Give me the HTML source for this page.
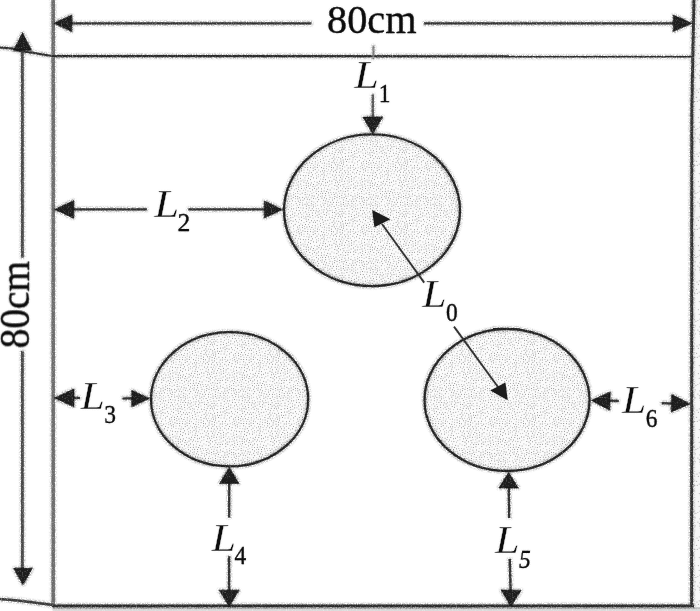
<!DOCTYPE html>
<html>
<head>
<meta charset="utf-8">
<title>Diagram</title>
<style>
html,body{margin:0;padding:0;background:#fff;}
body{width:700px;height:611px;overflow:hidden;}
svg{display:block;}
text{font-family:"Liberation Serif",serif;fill:#0d0d0d;stroke:#0d0d0d;stroke-width:0.32px;}
.it{font-style:italic;}
.L{stroke:#fff;stroke-width:0.35px;}
</style>
</head>
<body>
<svg width="700" height="611" viewBox="0 0 700 611">
<defs>
  <!-- rough scanned look: speckled halo + softened core -->
  <filter id="rough" x="-2%" y="-2%" width="104%" height="104%" filterUnits="objectBoundingBox">
    <feTurbulence type="fractalNoise" baseFrequency="0.8" numOctaves="2" seed="4" result="n"/>
    <feColorMatrix in="n" type="matrix" values="0 0 0 0 0  0 0 0 0 0  0 0 0 0 0  3.4 0 0 0 -1.2" result="na"/>
    <feColorMatrix in="n" type="matrix" values="0 0 0 0 0  0 0 0 0 0  0 0 0 0 0  0 1.3 0 0 0.35" result="nb"/>
    <feMorphology in="SourceGraphic" operator="dilate" radius="1.1" result="d"/>
    <feGaussianBlur in="d" stdDeviation="0.9" result="db"/>
    <feComposite in="db" in2="na" operator="in" result="halo0"/>
    <feComponentTransfer in="halo0" result="halo"><feFuncA type="linear" slope="0.6"/></feComponentTransfer>
    <feGaussianBlur in="SourceGraphic" stdDeviation="0.55" result="core0"/>
    <feComposite in="core0" in2="nb" operator="in" result="core"/>
    <feMerge><feMergeNode in="halo"/><feMergeNode in="core"/></feMerge>
  </filter>
  <filter id="roughT" x="-5%" y="-5%" width="110%" height="110%" filterUnits="objectBoundingBox">
    <feTurbulence type="fractalNoise" baseFrequency="0.8" numOctaves="2" seed="9" result="n"/>
    <feColorMatrix in="n" type="matrix" values="0 0 0 0 0  0 0 0 0 0  0 0 0 0 0  3.4 0 0 0 -1.2" result="na"/>
    <feGaussianBlur in="SourceGraphic" stdDeviation="1.0" result="db"/>
    <feComposite in="db" in2="na" operator="in" result="halo0"/>
    <feComponentTransfer in="halo0" result="halo"><feFuncA type="linear" slope="0.32"/></feComponentTransfer>
    <feGaussianBlur in="SourceGraphic" stdDeviation="0.35" result="core"/>
    <feMerge><feMergeNode in="halo"/><feMergeNode in="core"/></feMerge>
  </filter>
  <filter id="roughH" x="-2%" y="-2%" width="104%" height="104%" filterUnits="objectBoundingBox">
    <feTurbulence type="fractalNoise" baseFrequency="0.8" numOctaves="2" seed="13" result="n"/>
    <feColorMatrix in="n" type="matrix" values="0 0 0 0 0  0 0 0 0 0  0 0 0 0 0  3.4 0 0 0 -1.2" result="na"/>
    <feColorMatrix in="n" type="matrix" values="0 0 0 0 0  0 0 0 0 0  0 0 0 0 0  0 1.2 0 0 0.42" result="nb"/>
    <feMorphology in="SourceGraphic" operator="dilate" radius="1.0" result="d"/>
    <feGaussianBlur in="d" stdDeviation="1.0" result="db"/>
    <feComposite in="db" in2="na" operator="in" result="halo0"/>
    <feComponentTransfer in="halo0" result="halo"><feFuncA type="linear" slope="0.6"/></feComponentTransfer>
    <feGaussianBlur in="SourceGraphic" stdDeviation="0.6" result="core0"/>
    <feComposite in="core0" in2="nb" operator="in" result="core"/>
    <feMerge><feMergeNode in="halo"/><feMergeNode in="core"/></feMerge>
  </filter>
  <filter id="roughE" x="-3%" y="-3%" width="106%" height="106%" filterUnits="objectBoundingBox">
    <feTurbulence type="fractalNoise" baseFrequency="0.8" numOctaves="2" seed="21" result="n"/>
    <feColorMatrix in="n" type="matrix" values="0 0 0 0 0  0 0 0 0 0  0 0 0 0 0  3.4 0 0 0 -1.2" result="na"/>
    <feColorMatrix in="n" type="matrix" values="0 0 0 0 0  0 0 0 0 0  0 0 0 0 0  0 1.2 0 0 0.42" result="nb"/>
    <feMorphology in="SourceGraphic" operator="dilate" radius="0.5" result="d"/>
    <feGaussianBlur in="d" stdDeviation="0.8" result="db"/>
    <feComposite in="db" in2="na" operator="in" result="halo0"/>
    <feComponentTransfer in="halo0" result="halo"><feFuncA type="linear" slope="0.5"/></feComponentTransfer>
    <feGaussianBlur in="SourceGraphic" stdDeviation="0.5" result="core0"/>
    <feComposite in="core0" in2="nb" operator="in" result="core"/>
    <feMerge><feMergeNode in="halo"/><feMergeNode in="core"/></feMerge>
  </filter>
  <filter id="soft" x="-2%" y="-2%" width="104%" height="104%">
    <feGaussianBlur stdDeviation="0.45"/>
  </filter>
  <pattern id="stip" width="64" height="64" patternUnits="userSpaceOnUse">
    <rect width="64" height="64" fill="#fbfbfb"/>
    <path d="M41.7 4.6h.01M34.3 23.4h.01M2.4 27.8h.01M4.5 5.8h.01M7.9 14.3h.01M40.2 60.7h.01M62.5 3.0h.01M54.9 18.5h.01M19.7 52.2h.01M11.6 37.2h.01M35.1 4.0h.01M3.8 13.2h.01M20.1 37.5h.01M29.0 19.2h.01M15.6 36.8h.01M33.6 56.0h.01M62.7 7.6h.01M26.8 48.5h.01M2.5 42.8h.01M48.9 36.7h.01M37.1 29.2h.01M53.8 60.5h.01M3.9 44.9h.01M41.4 63.6h.01M24.7 42.8h.01M3.8 49.2h.01M5.2 28.7h.01M52.4 55.3h.01M23.0 56.6h.01M61.3 9.7h.01M14.9 31.0h.01M37.7 16.8h.01M23.6 36.2h.01M61.0 44.2h.01M57.6 49.9h.01M25.1 25.5h.01M13.4 10.4h.01M21.8 3.4h.01M6.5 23.3h.01M1.6 56.0h.01M16.1 22.2h.01M23.3 7.9h.01M29.8 31.0h.01M21.9 16.9h.01M1.5 60.9h.01M33.8 9.4h.01M33.8 62.6h.01M55.3 44.6h.01M34.1 49.9h.01M21.1 14.3h.01M54.6 51.6h.01M52.4 47.4h.01M16.6 44.3h.01M61.2 28.6h.01M61.1 23.3h.01M14.1 14.5h.01M53.8 30.7h.01M41.8 51.2h.01M62.2 25.3h.01M25.7 60.6h.01M8.1 9.7h.01M9.4 52.9h.01M8.4 0.9h.01M33.7 59.8h.01M52.9 13.5h.01M16.1 18.7h.01M22.6 29.3h.01M37.3 57.9h.01M32.1 34.0h.01M28.2 11.7h.01M46.4 35.6h.01M20.9 33.2h.01M49.4 32.5h.01M36.0 48.6h.01M39.2 32.4h.01M32.8 44.3h.01M30.6 60.3h.01M44.7 56.1h.01M35.8 60.4h.01M7.8 28.3h.01M4.7 42.8h.01M50.2 57.4h.01M42.3 9.2h.01M56.5 61.9h.01M25.5 31.2h.01M63.4 53.3h.01M12.5 20.4h.01M46.2 1.2h.01M4.1 63.0h.01M6.7 17.0h.01M36.5 44.8h.01M5.7 3.7h.01M5.4 54.8h.01M29.0 21.7h.01M20.0 19.5h.01M32.0 11.4h.01M16.0 1.0h.01M12.1 30.4h.01M52.4 27.7h.01M31.7 53.4h.01M21.9 53.3h.01M45.2 40.7h.01M3.5 8.3h.01M16.4 10.4h.01M18.8 29.4h.01M16.8 61.6h.01M19.8 22.8h.01M0.1 24.4h.01M2.7 1.4h.01M37.5 33.9h.01M2.8 53.5h.01M57.1 40.1h.01M8.9 33.5h.01M51.5 52.9h.01M35.7 40.2h.01M40.1 43.6h.01M47.2 16.1h.01M46.7 13.1h.01M31.6 24.5h.01M49.1 39.5h.01M43.2 18.6h.01M33.1 29.7h.01M57.2 12.8h.01M62.6 59.9h.01M14.8 57.5h.01M0.2 31.5h.01M0.1 48.0h.01M53.7 7.7h.01M57.7 18.5h.01M63.9 37.7h.01M18.3 59.9h.01M19.1 47.3h.01M10.7 10.3h.01M31.8 14.1h.01M21.9 5.8h.01M15.3 16.5h.01M26.5 33.5h.01M4.0 17.8h.01M25.6 28.5h.01M61.1 54.3h.01M57.3 30.3h.01M37.6 0.0h.01M33.6 37.3h.01M24.8 14.3h.01M26.9 16.5h.01M42.7 59.2h.01M43.7 12.7h.01M62.1 19.9h.01M14.3 26.7h.01M9.4 25.2h.01M57.5 56.5h.01M59.6 21.1h.01M23.9 21.2h.01M10.8 0.2h.01M3.2 30.3h.01M23.9 58.8h.01M49.1 2.6h.01M2.2 4.0h.01M61.3 39.5h.01M60.4 1.6h.01M38.9 21.0h.01M50.1 5.1h.01M20.8 62.7h.01M17.0 5.4h.01M45.4 28.6h.01M47.9 54.2h.01M25.3 63.5h.01M51.7 41.8h.01M55.4 28.7h.01M16.6 49.8h.01M50.9 35.1h.01M23.3 12.6h.01M12.6 8.1h.01M30.9 3.4h.01M50.3 14.2h.01M26.9 37.3h.01M28.6 28.1h.01M1.5 39.6h.01M50.5 59.6h.01M4.2 22.5h.01M55.9 35.5h.01M6.7 63.5h.01M37.5 42.5h.01M39.4 27.7h.01M14.5 6.7h.01M17.0 41.1h.01M56.3 21.0h.01M28.0 46.4h.01M13.6 39.8h.01M44.6 47.2h.01M58.5 60.4h.01M40.4 18.4h.01M54.5 39.6h.01M22.2 45.1h.01M0.1 12.9h.01M31.5 51.0h.01M44.6 50.4h.01M21.0 12.1h.01M24.9 2.2h.01M25.5 50.6h.01M9.1 38.6h.01M20.0 40.2h.01M11.7 41.9h.01M49.8 24.9h.01M13.4 43.8h.01M14.0 51.3h.01M22.6 40.9h.01M53.4 22.7h.01M35.5 16.9h.01M42.6 53.8h.01M32.2 17.4h.01M59.0 39.0h.01M52.6 50.3h.01M26.4 6.5h.01M0.3 43.8h.01M46.7 5.4h.01M60.5 50.2h.01M45.0 53.0h.01M50.7 29.4h.01M5.6 51.6h.01M30.5 37.7h.01M12.1 12.3h.01M58.2 4.1h.01M7.7 61.4h.01M14.2 2.5h.01M53.6 3.0h.01M6.7 20.7h.01M20.4 57.8h.01M16.5 12.9h.01M36.6 8.8h.01M11.9 53.2h.01M23.5 10.5h.01M16.0 52.3h.01M1.9 6.2h.01M37.9 55.1h.01M27.9 62.8h.01M47.3 47.6h.01M37.2 5.6h.01M43.3 33.6h.01M28.2 40.0h.01M32.8 7.1h.01M10.0 18.6h.01M19.6 44.2h.01M48.6 6.8h.01M28.8 24.7h.01M25.8 4.2h.01M42.5 21.9h.01M23.1 32.0h.01M40.2 11.6h.01M9.1 36.0h.01M44.0 10.5h.01M32.9 27.0h.01M54.1 25.2h.01M37.7 2.8h.01M5.1 11.4h.01M12.0 34.4h.01M39.3 46.3h.01M49.7 19.8h.01M18.1 21.2h.01M31.1 57.0h.01M55.3 11.7h.01M43.7 5.8h.01M1.3 63.4h.01M56.5 46.8h.01M44.4 20.8h.01M41.4 35.1h.01M45.6 25.2h.01M17.0 58.2h.01M59.3 33.8h.01M24.4 53.3h.01M55.8 9.3h.01M3.3 20.1h.01M14.3 34.9h.01M5.7 8.9h.01M22.6 24.0h.01M15.7 47.0h.01M57.2 42.6h.01M61.0 57.1h.01M50.8 22.2h.01M4.5 35.1h.01M17.5 54.1h.01M12.4 47.1h.01M6.5 6.8h.01M45.5 60.5h.01M56.9 58.6h.01M49.2 0.4h.01M1.3 14.8h.01M34.0 41.6h.01M18.3 24.4h.01M64.0 29.2h.01M57.6 14.9h.01M2.0 46.4h.01M47.0 8.3h.01M43.3 41.8h.01M50.3 16.7h.01M62.4 63.7h.01M59.5 30.3h.01M56.7 23.5h.01M51.3 7.2h.01M54.5 57.0h.01M15.4 54.8h.01M13.6 0.1h.01M41.8 6.8h.01M53.2 15.9h.01M56.1 3.8h.01M15.2 24.4h.01M60.8 61.2h.01M7.5 54.3h.01M31.6 48.4h.01M55.3 54.9h.01M55.1 48.6h.01M22.4 38.3h.01M0.1 4.6h.01M61.7 5.3h.01M20.9 42.4h.01M44.5 8.2h.01M53.4 34.7h.01M17.2 38.9h.01M59.2 41.6h.01M29.2 54.1h.01M61.4 37.1h.01M3.8 40.4h.01M0.4 33.7h.01M35.1 58.1h.01M18.4 56.4h.01M28.4 2.0h.01M31.3 9.2h.01M21.6 35.2h.01M31.0 28.0h.01M46.9 38.8h.01M36.5 22.2h.01M25.6 44.8h.01M15.2 42.4h.01M28.3 44.1h.01M52.0 24.4h.01M17.9 36.8h.01M32.9 4.8h.01M9.8 13.1h.01M5.9 57.6h.01M20.7 30.9h.01M46.5 33.3h.01M51.7 39.5h.01M10.0 5.3h.01M28.8 49.6h.01M49.8 47.7h.01M20.4 49.3h.01M21.8 21.9h.01M56.2 16.7h.01M19.6 4.5h.01M10.1 62.0h.01M22.2 19.4h.01M42.4 15.5h.01M27.7 31.5h.01M57.6 6.4h.01M2.1 25.1h.01M11.4 39.5h.01M35.2 6.8h.01M49.0 12.3h.01M42.7 39.7h.01M42.0 57.0h.01M39.4 4.4h.01M51.2 12.0h.01M34.9 28.6h.01M63.1 22.3h.01M13.8 28.9h.01M60.2 18.8h.01M22.1 51.1h.01M34.8 25.7h.01M14.9 4.5h.01M27.2 13.9h.01M62.9 55.7h.01M38.7 23.9h.01M20.6 24.9h.01M3.1 51.3h.01M45.6 42.9h.01M24.1 5.6h.01M52.6 58.0h.01M12.1 25.6h.01M30.3 40.0h.01M23.7 34.1h.01M28.2 9.5h.01M4.3 47.1h.01M53.0 45.1h.01M63.8 18.7h.01M50.1 27.1h.01M5.4 1.5h.01M50.2 55.1h.01M28.2 60.5h.01M42.1 37.3h.01M13.7 32.8h.01M7.8 18.9h.01M14.7 20.5h.01" stroke="#767676" stroke-width="0.95" stroke-linecap="round" fill="none"/>
    <path d="M20.7 9.7h.01M3.7 32.5h.01M27.2 52.9h.01M36.9 25.4h.01M9.2 7.5h.01M40.9 23.8h.01M43.5 27.4h.01M50.8 44.7h.01M46.7 18.4h.01M9.7 31.3h.01M44.5 38.0h.01M30.3 42.5h.01M52.6 18.2h.01M25.0 55.8h.01M17.8 26.6h.01M11.3 14.8h.01M0.3 26.8h.01M33.0 39.5h.01M6.6 40.6h.01M0.0 9.7h.01M39.3 9.5h.01M54.3 63.6h.01M53.0 10.3h.01M34.8 1.7h.01M10.7 49.4h.01M51.9 63.0h.01M1.8 17.9h.01M60.0 63.2h.01M39.9 57.6h.01M48.0 30.6h.01M46.4 10.9h.01M62.7 42.1h.01M27.8 55.8h.01M8.4 58.2h.01M26.9 58.7h.01M0.3 51.1h.01M6.8 35.9h.01M58.4 28.4h.01M29.0 34.1h.01M60.3 16.6h.01M4.6 15.4h.01M9.9 45.8h.01M14.1 61.0h.01M10.3 27.6h.01M1.2 21.2h.01M17.3 8.3h.01M4.6 60.1h.01M33.7 15.3h.01M22.2 1.2h.01M59.8 6.8h.01M44.0 62.9h.01M25.9 22.2h.01M18.0 15.5h.01M62.2 35.0h.01M5.7 25.6h.01M48.0 42.1h.01M47.0 52.0h.01M43.7 44.4h.01M31.3 0.2h.01M47.3 62.4h.01M9.4 16.3h.01M29.8 7.6h.01M52.5 32.6h.01M9.0 22.0h.01M59.3 45.6h.01M17.6 3.1h.01M62.5 16.7h.01M12.3 5.8h.01M48.0 26.4h.01M55.2 13.8h.01M55.9 1.4h.01M41.4 48.9h.01M19.7 1.4h.01M21.6 26.9h.01M14.2 48.7h.01M9.1 3.3h.01M11.9 59.9h.01M61.7 13.3h.01M12.4 23.3h.01M47.8 57.5h.01M59.4 11.7h.01M2.2 35.4h.01M6.2 31.9h.01M9.8 56.6h.01M7.6 12.1h.01M38.2 39.7h.01M0.4 57.7h.01M59.3 24.8h.01M27.2 42.2h.01M48.9 49.9h.01M32.4 20.4h.01M23.1 48.9h.01M37.7 13.1h.01M47.8 20.9h.01M36.5 19.7h.01M4.2 37.8h.01M61.7 32.2h.01M55.2 5.8h.01M44.8 31.9h.01M62.4 46.6h.01M40.5 29.6h.01M40.3 16.0h.01M34.6 45.9h.01M8.3 49.7h.01M38.9 50.0h.01M40.8 40.7h.01M11.6 2.4h.01M41.2 13.6h.01M52.3 5.1h.01M29.8 13.2h.01M56.6 33.4h.01M50.4 10.0h.01M42.9 25.2h.01M48.3 60.1h.01M3.6 57.3h.01M51.9 37.3h.01M7.7 45.7h.01M26.0 8.8h.01M35.6 31.5h.01M22.5 60.7h.01M33.9 52.2h.01M40.3 38.6h.01M45.8 22.6h.01M12.2 18.1h.01M44.8 15.9h.01M52.8 20.5h.01M51.2 2.3h.01M17.5 32.0h.01M59.2 36.1h.01M35.5 11.6h.01M10.3 43.7h.01M44.1 2.4h.01M34.8 35.1h.01M47.6 24.2h.01M30.3 46.2h.01M40.7 55.0h.01M18.9 13.5h.01M38.3 61.9h.01M29.1 51.8h.01M36.8 52.9h.01M11.9 55.8h.01M2.8 11.2h.01M28.1 4.3h.01M58.4 53.6h.01M57.9 10.1h.01M16.5 29.1h.01M39.6 6.7h.01M24.8 39.0h.01M24.1 17.2h.01M57.8 0.2h.01M37.5 36.8h.01M24.0 46.9h.01M57.0 26.1h.01M48.0 44.5h.01M19.3 34.9h.01M42.6 30.3h.01M6.7 47.8h.01M19.7 6.7h.01M19.8 54.5h.01M8.4 41.8h.01M53.7 42.9h.01M39.6 1.5h.01M40.0 52.6h.01M30.1 15.8h.01M60.4 47.8h.01M0.5 1.6h.01M48.6 34.5h.01M35.3 54.5h.01M6.6 38.4h.01M35.7 14.2h.01M34.2 19.2h.01M19.0 17.5h.01M49.7 61.9h.01M25.2 19.5h.01M57.3 37.4h.01M16.7 34.3h.01M54.7 37.4h.01M42.4 46.7h.01M33.8 12.9h.01M41.9 1.5h.01M29.0 58.2h.01M18.7 10.5h.01M49.1 52.3h.01M7.0 43.5h.01M25.8 11.8h.01M32.9 31.9h.01M59.7 14.1h.01M21.6 47.2h.01M43.8 35.8h.01M42.4 61.5h.01M62.3 48.8h.01M31.3 22.4h.01M59.2 58.3h.01M18.7 63.4h.01M23.2 63.2h.01M45.3 58.3h.01" stroke="#a8a8a8" stroke-width="0.95" stroke-linecap="round" fill="none"/>
  </pattern>
  <pattern id="stip2" width="64" height="64" patternUnits="userSpaceOnUse">
    <rect width="64" height="64" fill="#f7f7f7"/>
    <path d="M20.7 9.7h.01M3.7 32.5h.01M27.2 52.9h.01M36.9 25.4h.01M9.2 7.5h.01M40.9 23.8h.01M43.5 27.4h.01M50.8 44.7h.01M46.7 18.4h.01M9.7 31.3h.01M44.5 38.0h.01M30.3 42.5h.01M52.6 18.2h.01M25.0 55.8h.01M17.8 26.6h.01M11.3 14.8h.01M0.3 26.8h.01M33.0 39.5h.01M6.6 40.6h.01M0.0 9.7h.01M39.3 9.5h.01M54.3 63.6h.01M53.0 10.3h.01M34.8 1.7h.01M10.7 49.4h.01M51.9 63.0h.01M1.8 17.9h.01M60.0 63.2h.01M39.9 57.6h.01M48.0 30.6h.01M46.4 10.9h.01M62.7 42.1h.01M27.8 55.8h.01M8.4 58.2h.01M26.9 58.7h.01M0.3 51.1h.01M6.8 35.9h.01M58.4 28.4h.01M29.0 34.1h.01M60.3 16.6h.01M4.6 15.4h.01M9.9 45.8h.01M14.1 61.0h.01M10.3 27.6h.01M1.2 21.2h.01M17.3 8.3h.01M4.6 60.1h.01M33.7 15.3h.01M22.2 1.2h.01M59.8 6.8h.01M44.0 62.9h.01M25.9 22.2h.01M18.0 15.5h.01M62.2 35.0h.01M5.7 25.6h.01M48.0 42.1h.01M47.0 52.0h.01M43.7 44.4h.01M31.3 0.2h.01M47.3 62.4h.01M9.4 16.3h.01M29.8 7.6h.01M52.5 32.6h.01M9.0 22.0h.01M59.3 45.6h.01M17.6 3.1h.01M62.5 16.7h.01M12.3 5.8h.01M48.0 26.4h.01M55.2 13.8h.01M55.9 1.4h.01M41.4 48.9h.01M19.7 1.4h.01M21.6 26.9h.01M14.2 48.7h.01M9.1 3.3h.01M11.9 59.9h.01M61.7 13.3h.01M12.4 23.3h.01M47.8 57.5h.01M59.4 11.7h.01M2.2 35.4h.01M6.2 31.9h.01M9.8 56.6h.01M7.6 12.1h.01M38.2 39.7h.01M0.4 57.7h.01M59.3 24.8h.01M27.2 42.2h.01M48.9 49.9h.01M32.4 20.4h.01M23.1 48.9h.01M37.7 13.1h.01M47.8 20.9h.01M36.5 19.7h.01M4.2 37.8h.01M61.7 32.2h.01M55.2 5.8h.01M44.8 31.9h.01M62.4 46.6h.01M40.5 29.6h.01M40.3 16.0h.01M34.6 45.9h.01M8.3 49.7h.01M38.9 50.0h.01M40.8 40.7h.01M11.6 2.4h.01M41.2 13.6h.01M52.3 5.1h.01M29.8 13.2h.01M56.6 33.4h.01M50.4 10.0h.01M42.9 25.2h.01M48.3 60.1h.01M3.6 57.3h.01M51.9 37.3h.01M7.7 45.7h.01M26.0 8.8h.01M35.6 31.5h.01M22.5 60.7h.01M33.9 52.2h.01M40.3 38.6h.01M45.8 22.6h.01M12.2 18.1h.01M44.8 15.9h.01M52.8 20.5h.01M51.2 2.3h.01M17.5 32.0h.01M59.2 36.1h.01M35.5 11.6h.01M10.3 43.7h.01M44.1 2.4h.01M34.8 35.1h.01M47.6 24.2h.01M30.3 46.2h.01M40.7 55.0h.01M18.9 13.5h.01M38.3 61.9h.01M29.1 51.8h.01M36.8 52.9h.01M11.9 55.8h.01M2.8 11.2h.01M28.1 4.3h.01M58.4 53.6h.01M57.9 10.1h.01M16.5 29.1h.01M39.6 6.7h.01M24.8 39.0h.01M24.1 17.2h.01M57.8 0.2h.01M37.5 36.8h.01M24.0 46.9h.01M57.0 26.1h.01M48.0 44.5h.01M19.3 34.9h.01M42.6 30.3h.01M6.7 47.8h.01M19.7 6.7h.01M19.8 54.5h.01M8.4 41.8h.01M53.7 42.9h.01M39.6 1.5h.01M40.0 52.6h.01M30.1 15.8h.01M60.4 47.8h.01M0.5 1.6h.01M48.6 34.5h.01M35.3 54.5h.01M6.6 38.4h.01M35.7 14.2h.01M34.2 19.2h.01M19.0 17.5h.01M49.7 61.9h.01M25.2 19.5h.01M57.3 37.4h.01M16.7 34.3h.01M54.7 37.4h.01M42.4 46.7h.01M33.8 12.9h.01M41.9 1.5h.01M29.0 58.2h.01M18.7 10.5h.01M49.1 52.3h.01M7.0 43.5h.01M25.8 11.8h.01M32.9 31.9h.01M59.7 14.1h.01M21.6 47.2h.01M43.8 35.8h.01M42.4 61.5h.01M62.3 48.8h.01M31.3 22.4h.01M59.2 58.3h.01M18.7 63.4h.01M23.2 63.2h.01M45.3 58.3h.01" stroke="#b4b4b4" stroke-width="1.2" stroke-linecap="round" fill="none"/>
  </pattern>
</defs>
<rect width="700" height="611" fill="#fff"/>

<!-- faint scan noise at right/bottom edges -->
<rect x="693.5" y="0" width="6.5" height="611" fill="url(#stip2)"/>
<g filter="url(#rough)"><rect x="53" y="607.3" width="647" height="2" fill="#bdbdbd"/><rect x="53" y="609.3" width="647" height="2.5" fill="#dcdcdc"/></g>

<!-- ellipses -->
<g filter="url(#soft)">
  <ellipse cx="372" cy="210.3" rx="88" ry="75.9" fill="url(#stip)"/>
  <ellipse cx="229.6" cy="399.3" rx="78.6" ry="67.1" fill="url(#stip)"/>
  <ellipse cx="507" cy="400.1" rx="82.5" ry="70.9" fill="url(#stip)"/>
</g>
<g filter="url(#roughE)" fill="none" stroke="#242424" stroke-width="2.3">
  <ellipse cx="372" cy="210.3" rx="88" ry="75.9"/>
  <ellipse cx="229.6" cy="399.3" rx="78.6" ry="67.1"/>
  <ellipse cx="507" cy="400.1" rx="82.5" ry="70.9"/>
  <path d="M493 328.9 Q507 327.9 520 329.2" stroke-width="1.6"/>
</g>

<!-- frame lines -->
<g filter="url(#rough)" fill="none" stroke-linecap="butt">
  <line x1="53.2" y1="0" x2="53.2" y2="606" stroke="#6c6c6c" stroke-width="3.5"/>
  <path d="M693.9 0 L691.8 110 L691.6 606" stroke="#333" stroke-width="2.9"/>
  <line x1="52" y1="56.1" x2="692" y2="56.4" stroke="#2a2a2a" stroke-width="2.2"/>
  <line x1="52" y1="605.9" x2="694" y2="605.9" stroke="#2a2a2a" stroke-width="2.7"/>
  <path d="M0 47.5 L12 48.5 L20 51 L34 53 L52 56" stroke="#2e2e2e" stroke-width="2"/>
  <path d="M0 599 L20 600.8 L53 605" stroke="#3a3a3a" stroke-width="2.4"/>
  <line x1="373.5" y1="45.5" x2="373.3" y2="59" stroke="#7a7a7a" stroke-width="2"/>
</g>

<!-- dimension arrows -->
<g filter="url(#rough)" stroke="#333" stroke-width="2.3" fill="none">
<line x1="70" y1="23.3" x2="311.5" y2="23.3" />
<line x1="424" y1="23.3" x2="675" y2="23.3" />
<line x1="22.4" y1="48" x2="22.4" y2="257.5" stroke="#484848" stroke-width="2.8"/>
<line x1="22.4" y1="351" x2="22.4" y2="570" stroke="#484848" stroke-width="2.8"/>
<line x1="372.8" y1="94.5" x2="372.8" y2="119" stroke="#555"/>
<line x1="72" y1="209.4" x2="146.8" y2="209.4" />
<line x1="188.3" y1="209.4" x2="266" y2="209.4" />
<line x1="73" y1="397.9" x2="80" y2="397.9" />
<line x1="122.6" y1="398.4" x2="134" y2="398.4" />
<line x1="608" y1="400.6" x2="618.7" y2="401.0" />
<line x1="661.4" y1="403.2" x2="674" y2="403.7" />
<line x1="229.2" y1="482" x2="229.2" y2="517.4" />
<line x1="229.1" y1="556.3" x2="229.1" y2="592" />
<line x1="508.8" y1="487" x2="509.2" y2="518" />
<line x1="509.8" y1="559" x2="510.6" y2="592" />
</g>
<g filter="url(#roughH)" fill="#1a1a1a" stroke="#1a1a1a" stroke-width="0.6" stroke-linejoin="round">
<polygon points="54.0,23.3 71.8,15.0 71.8,31.6"/>
<polygon points="691.8,23.3 673.3,31.5 673.3,15.1"/>
<polygon points="22.5,32.8 31.4,50.3 13.6,50.3"/>
<polygon points="23.0,584.8 13.7,568.3 32.3,568.3"/>
<polygon points="372.8,134.0 363.0,117.0 382.6,117.0"/>
<polygon points="54.8,209.4 73.8,200.5 73.8,218.3"/>
<polygon points="282.3,209.5 264.3,218.1 264.3,200.9"/>
<polygon points="54.5,397.9 74.0,389.0 74.0,406.8"/>
<polygon points="149.3,398.5 131.8,406.7 131.8,390.3"/>
<polygon points="591.5,400.4 610.3,391.9 609.7,410.2"/>
<polygon points="690.0,403.9 671.2,412.0 671.8,394.5"/>
<polygon points="229.3,467.6 239.0,483.4 219.6,483.4"/>
<polygon points="229.1,606.2 219.1,590.2 239.1,590.2"/>
<polygon points="508.6,472.6 518.3,488.0 498.9,488.0"/>
<polygon points="510.8,606.2 501.1,590.0 521.1,590.4"/>
</g>
<g filter="url(#roughT)" stroke="#303030" stroke-width="1.8" fill="#1a1a1a">
<line x1="382" y1="224" x2="424.2" y2="282.6" /><polygon points="372.2,210 374.4,227.2 390.4,219.3" stroke="none"/>
<line x1="454" y1="326.6" x2="498" y2="387" /><polygon points="507.7,400.3 490.3,390.6 505.4,382.6" stroke="none"/>
</g>

<!-- labels -->
<g filter="url(#roughT)">
<text x="327" y="33.3" font-size="40.3">80cm</text>
<text transform="translate(29.3,348.4) rotate(-90) scale(0.977,1.04)" font-size="40.3">80cm</text>
<text class="it L" transform="translate(354.3,87.9) scale(1.11,1)" font-size="39.9">L</text><text transform="translate(378.8,102.0) scale(0.92,1)" font-size="25.5">1</text><text class="it L" transform="translate(154.2,216.6) scale(1.11,1)" font-size="40.4">L</text><text transform="translate(177.4,231.0) scale(0.98,1)" font-size="26.2">2</text><text class="it L" transform="translate(80.4,408.7) scale(1.11,1)" font-size="39.4">L</text><text transform="translate(104.2,423.0) scale(0.92,1)" font-size="25.5">3</text><text class="it L" transform="translate(211.4,550.5) scale(1.11,1)" font-size="39.8">L</text><text transform="translate(234.5,564.3) scale(0.92,1)" font-size="25.5">4</text><text class="it L" transform="translate(495.0,552.7) scale(1.11,1)" font-size="39.8">L</text><text class="it" transform="translate(519.0,567.8) scale(0.92,1)" font-size="25.5">5</text><text class="it L" transform="translate(622.0,412.9) scale(1.11,1)" font-size="39.4">L</text><text transform="translate(645.8,426.8) scale(0.92,1)" font-size="25.5">6</text><text class="it L" transform="translate(422.3,306.6) scale(1.11,1)" font-size="39.4">L</text><text transform="translate(446.0,321.0) scale(0.92,1)" font-size="25.5">0</text>
</g>
</svg>
</body>
</html>
